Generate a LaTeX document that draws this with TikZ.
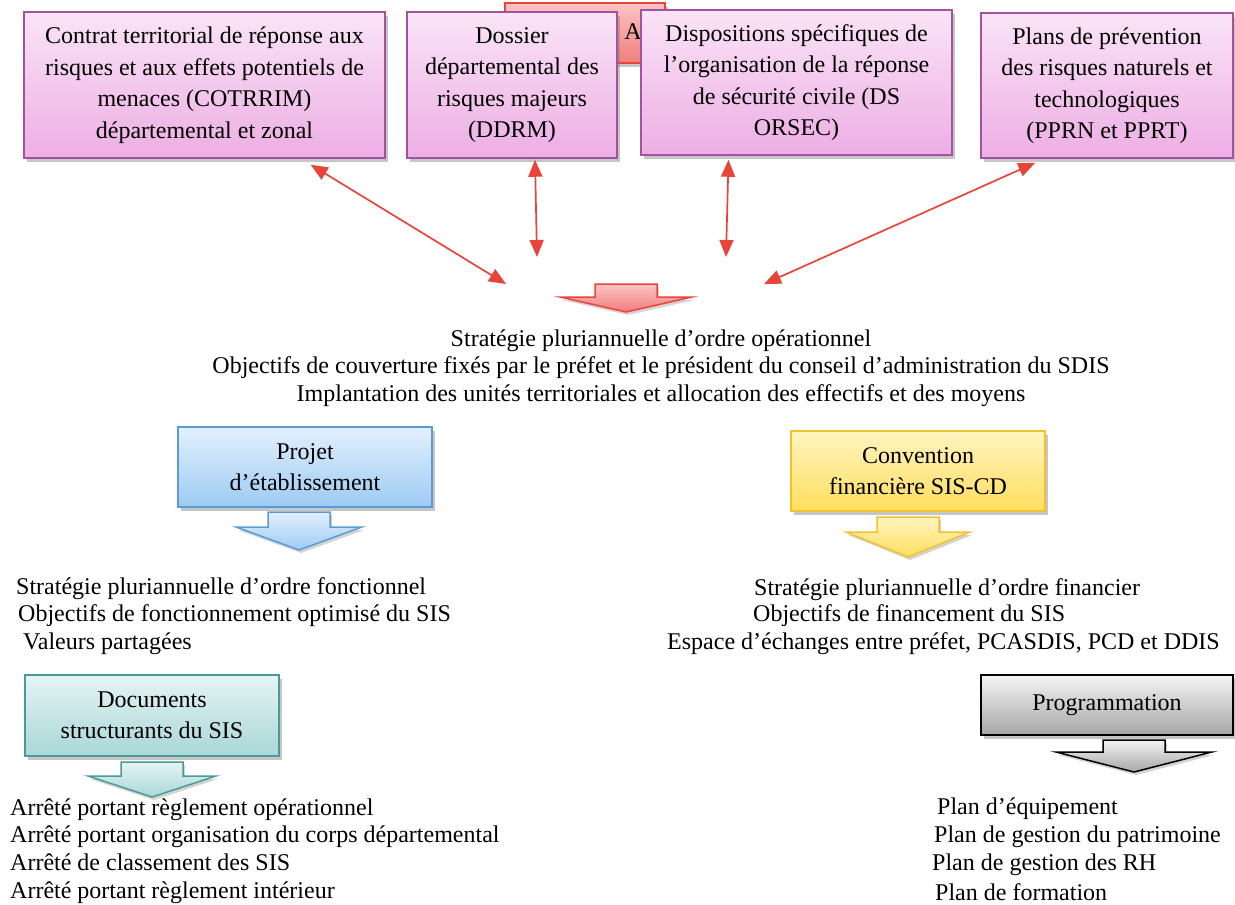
\documentclass[tikz,border=0pt]{standalone}
\usepackage{fontspec}
\setmainfont{Liberation Serif}
\usetikzlibrary{arrows.meta,shadows,calc}

\definecolor{pinkTop}{HTML}{FAE4F7}
\definecolor{pinkBot}{HTML}{EDAEE4}
\definecolor{pinkLine}{HTML}{A2539E}
\definecolor{redTop}{HTML}{FBC4C4}
\definecolor{redBot}{HTML}{F27D7D}
\definecolor{redLine}{HTML}{E8443A}
\definecolor{blueTop}{HTML}{E2F0FD}
\definecolor{blueBot}{HTML}{9DCBF3}
\definecolor{blueLine}{HTML}{5B9BD5}
\definecolor{yelTop}{HTML}{FFF4C0}
\definecolor{yelBot}{HTML}{FFDE5E}
\definecolor{yelLine}{HTML}{F2C12E}
\definecolor{tealTop}{HTML}{E6F4F4}
\definecolor{tealBot}{HTML}{A9D7D7}
\definecolor{tealLine}{HTML}{4B9A9A}
\definecolor{greyTop}{HTML}{F4F4F4}
\definecolor{greyBot}{HTML}{A6A6A6}

% block arrow: centre x, top y, shaft height, head half width, head height, style
\newcommand{\bigarrow}[6]{%
  \path[#6] (#1-31,#2) -- (#1+31,#2) -- (#1+31,#2+#3) -- (#1+#4,#2+#3)
    -- (#1,#2+#3+#5) -- (#1-#4,#2+#3) -- (#1-31,#2+#3) -- cycle;}

\tikzset{
  box/.style={draw, line width=1.5pt, align=center, inner sep=3pt,
    font=\fontsize{24}{31.5}\selectfont,
    drop shadow={opacity=0.45, shadow xshift=3pt, shadow yshift=-4pt}},
  pinkbox/.style={box, draw=pinkLine, top color=pinkTop, bottom color=pinkBot},
  redbox/.style={box, draw=redLine, top color=redTop, bottom color=redBot},
  bluebox/.style={box, draw=blueLine, top color=blueTop, bottom color=blueBot},
  yelbox/.style={box, draw=yelLine, top color=yelTop, bottom color=yelBot},
  tealbox/.style={box, draw=tealLine, top color=tealTop, bottom color=tealBot},
  greybox/.style={box, draw=black, top color=greyTop, bottom color=greyBot},
  link/.style={draw=redLine, line width=1.7pt,
    {Triangle[length=17pt,width=14pt]}-{Triangle[length=17pt,width=14pt]}},
  blk/.style={line width=1.5pt,
    drop shadow={opacity=0.35, shadow xshift=2pt, shadow yshift=-3pt}},
  txt/.style={font=\fontsize{24}{27.6}\selectfont, inner sep=0pt}
}

\begin{document}
\begin{tikzpicture}[x=1pt,y=-1pt]
\useasboundingbox (0,0) rectangle (1235,905);

% Hidden box behind the top row
\node[redbox, minimum width=160pt, minimum height=60pt] (arr) at (585,33) {};
\node[txt] (arrA) at (633,32) {A};

% Top row of documents
\node[pinkbox, minimum width=361pt, minimum height=146pt] (cot) at (204.5,85)
  {Contrat territorial de réponse aux\\risques et aux effets potentiels de\\menaces (COTRRIM)\\départemental et zonal};
\node[pinkbox, minimum width=210pt, minimum height=146pt] (ddrm) at (512,85)
  {Dossier\\départemental des\\risques majeurs\\(DDRM)};
\node[pinkbox, minimum width=311pt, minimum height=145pt] (orsec) at (796.5,82.5)
  {Dispositions spécifiques de\\l’organisation de la réponse\\de sécurité civile (DS\\ORSEC)};
\node[pinkbox, minimum width=252pt, minimum height=145pt] (pprn) at (1107,85.5)
  {Plans de prévention\\des risques naturels et\\technologiques\\(PPRN et PPRT)};

% Links towards the strategy
\coordinate (e1) at (506,284);
\coordinate (e2) at (537,257);
\coordinate (e3) at (726,257);
\coordinate (e4) at (764,284);
\draw[link] ($(cot.south east)+(-75,6)$) -- (e1);
\draw[link] ($(ddrm.south)+(23,1)$) -- (e2);
\draw[link] ($(orsec.south)+(-68,4)$) -- (e3);
\draw[link] ($(pprn.south west)+(55,4)$) -- (e4);

% Block arrows
\bigarrow{626}{284}{13}{66}{15}{blk, draw=redLine, top color=redTop, bottom color=redBot}
\bigarrow{299}{512}{15}{63}{23}{blk, draw=blueLine, top color=blueTop, bottom color=blueBot}
\bigarrow{908}{517}{15}{62}{25}{blk, draw=yelLine, top color=yelTop, bottom color=yelBot}
\bigarrow{152}{762}{14}{64}{21}{blk, draw=tealLine, top color=tealTop, bottom color=tealBot}
\bigarrow{1134}{740}{12}{78}{20}{blk, draw=black, top color=greyTop, bottom color=greyBot}

% Operational strategy
\node[txt, align=center] (ops) at (661,368)
  {Stratégie pluriannuelle d’ordre opérationnel\\Objectifs de couverture fixés par le préfet et le président du conseil d’administration du SDIS\\Implantation des unités territoriales et allocation des effectifs et des moyens};

% Middle boxes
\node[bluebox, minimum width=254pt, minimum height=80pt] (proj) at (305,467)
  {Projet\\d’établissement};
\node[yelbox, minimum width=254pt, minimum height=80pt] (conv) at (918,471)
  {Convention\\financière SIS-CD};

% Functional and financial strategy
\node[txt, anchor=west] (fon1) at (16,589) {Stratégie pluriannuelle d’ordre fonctionnel};
\node[txt, anchor=west] (fon2) at (18,616) {Objectifs de fonctionnement optimisé du SIS};
\node[txt, anchor=west] (fon3) at (23,644) {Valeurs partagées};
\node[txt, anchor=west] (fin1) at (754,590) {Stratégie pluriannuelle d’ordre financier};
\node[txt, anchor=west] (fin2) at (753,616) {Objectifs de financement du SIS};
\node[txt, anchor=west] (fin3) at (667,644) {Espace d’échanges entre préfet, PCASDIS, PCD et DDIS};

% Bottom boxes
\node[tealbox, minimum width=254pt, minimum height=81pt] (docs) at (152,715.5)
  {Documents\\structurants du SIS};
\node[greybox, minimum width=252pt, minimum height=60pt] (prog) at (1107,705)
  {Programmation};

% Bottom lists
\node[txt, anchor=west, align=left] (arretes) at (10,851)
  {Arrêté portant règlement opérationnel\\Arrêté portant organisation du corps départemental\\Arrêté de classement des SIS\\Arrêté portant règlement intérieur};
\node[txt, anchor=west] (pl1) at (937,809) {Plan d’équipement};
\node[txt, anchor=west] (pl2) at (934,837) {Plan de gestion du patrimoine};
\node[txt, anchor=west] (pl3) at (932,865) {Plan de gestion des RH};
\node[txt, anchor=west] (pl4) at (935,892) {Plan de formation};

\end{tikzpicture}
\end{document}
